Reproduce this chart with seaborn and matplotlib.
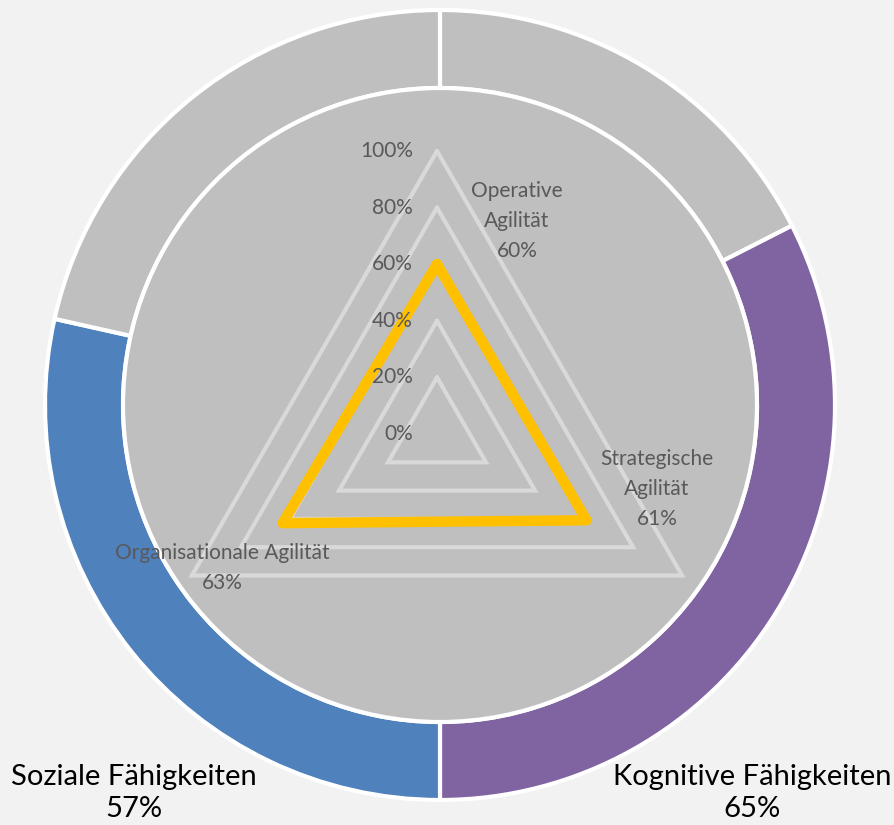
import numpy as np
import matplotlib.pyplot as plt
import seaborn as sns

# outer ring: two halves, each a share of 100%
ring_labels = ["Kognitive Fähigkeiten", "Soziale Fähigkeiten"]
ring_values = [65, 57]

# inner radar
radar_labels = ["Operative\nAgilität", "Strategische\nAgilität", "Organisationale Agilität"]
radar_values = [60, 61, 63]
radar_levels = [0, 20, 40, 60, 80, 100]

GREY = "#BFBFBF"
PURPLE = "#8064A2"
BLUE = "#4F81BD"
YELLOW = "#FFC000"
GRID = "#D9D9D9"
BG = "#F2F2F2"

sns.set_theme(style="white")
plt.rcParams["font.family"] = ["Lato", "DejaVu Sans"]

W, H = 895, 825
fig = plt.figure(figsize=(W / 100, H / 100), dpi=100, facecolor=BG)
ax = fig.add_axes([0, 0, 1, 1])
ax.set_facecolor(BG)

# donut (pixel-like data coords, y up)
cx, cy, R_out, ring_w = 440, 420, 395, 78
pie_vals = [100 - ring_values[0], ring_values[0], ring_values[1], 100 - ring_values[1]]
pie_cols = [GREY, PURPLE, BLUE, GREY]
ax.pie(pie_vals, colors=pie_cols, startangle=90, counterclock=False,
       radius=R_out, center=(cx, cy),
       wedgeprops=dict(width=ring_w, edgecolor="white", linewidth=3))
inner = plt.Circle((cx, cy), R_out - ring_w, facecolor=GREY, edgecolor="white", lw=3, zorder=2)
ax.add_patch(inner)

# radar
rx, ry, R = 437, 391, 283
theta = np.deg2rad([0, 120, 240])

def tri(vals):
    r = np.asarray(vals, dtype=float) / 100 * R
    xs = rx + r * np.sin(theta)
    ys = ry + r * np.cos(theta)
    return np.append(xs, xs[0]), np.append(ys, ys[0])

for lv in radar_levels[1:]:
    xs, ys = tri([lv] * 3)
    ax.plot(xs, ys, color=GRID, lw=3, solid_joinstyle="miter", zorder=3)

xs, ys = tri(radar_values)
ax.plot(xs, ys, color=YELLOW, lw=7.5, solid_joinstyle="round", zorder=4)

for lv in radar_levels:
    ax.text(413, ry + lv / 100 * R, f"{lv}%", ha="right", va="center",
            fontsize=15, color="#595959", zorder=5)

label_pos = [(517, 604), (657, 336), (222, 257)]
for (x, y), lab, v in zip(label_pos, radar_labels, radar_values):
    ax.text(x, y, f"{lab}\n{v}%", ha="center", va="center", fontsize=15,
            color="#595959", linespacing=1.62, zorder=5)

# ring labels (kept fully inside the canvas)
ax.text(752, 32, f"{ring_labels[0]}\n{ring_values[0]}%", ha="center", va="center",
        fontsize=21, color="black", linespacing=1.24)
ax.text(134, 32, f"{ring_labels[1]}\n{ring_values[1]}%", ha="center", va="center",
        fontsize=21, color="black", linespacing=1.24)

ax.set_xlim(0, W)
ax.set_ylim(0, H)
ax.set_aspect("auto")
ax.axis("off")

fig.savefig("out.png", dpi=100, facecolor=BG)
